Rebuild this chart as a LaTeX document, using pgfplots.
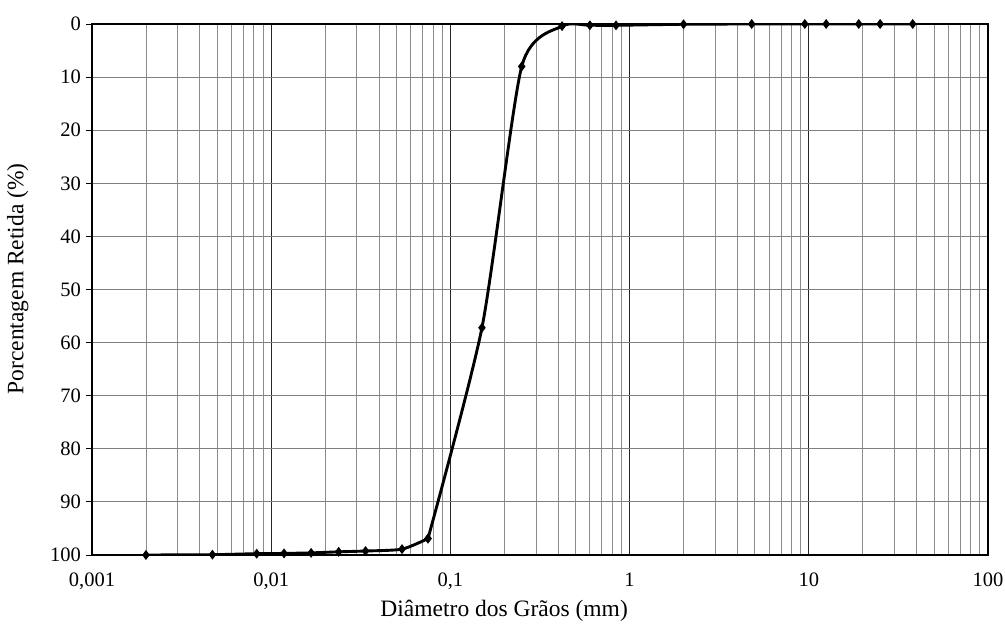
\documentclass[border=0pt]{standalone}
\usepackage{fontspec}
\setmainfont{Liberation Serif}
\usepackage{pgfplots}
\pgfplotsset{compat=1.18}
\pgfplotstableread{
x y
0.002 100
0.0047 99.94
0.0083 99.75
0.0118 99.7
0.0167 99.6
0.0238 99.4
0.0336 99.25
0.0537 98.9
0.075 96.9
}\finedata
\pgfplotstableread{
x y
0.075 96.9
0.15 57.2
0.25 8.0
0.42 0.4
0.6 0.25
0.84 0.25
2.0 0.05
4.8 0
9.5 0
12.5 0
19 0
25 0
38 0
}\sievedata
\begin{document}
\begin{tikzpicture}[x=1bp,y=1bp]
\useasboundingbox (0,0) rectangle (1005,630);
\begin{axis}[
  at={(92bp,75bp)}, anchor=south west,
  scale only axis, width=896bp, height=531bp,
  xmode=log, xmin=0.001, xmax=100,
  ymin=0, ymax=100, y dir=reverse,
  ytick={0,10,...,100},
  xtick={0.001,0.01,0.1,1,10,100},
  xticklabels={{0,001},{0,01},{0,1},{1},{10},{100}},
  /pgf/number format/assume math mode=true,
  ticklabel style={font=\fontsize{20.5bp}{24bp}\selectfont},
  xticklabel style={yshift=-14bp},
  ytick pos=left, xtick pos=bottom,
  ytick align=outside, major tick length=6bp,
  yticklabel style={xshift=-1.5bp},
  xtick style={draw=none}, minor x tick style={draw=none},
  xmajorgrids, xminorgrids, ymajorgrids,
  major x grid style={draw=black!85, line width=0.8bp},
  minor x grid style={draw=black!45, line width=0.8bp},
  major y grid style={draw=black!50, line width=0.8bp},
  axis line style={black, line width=1.2bp},
  ytick style={black, line width=0.8bp},
  xlabel={Diâmetro dos Grãos (mm)},
  ylabel={Porcentagem Retida (\%)},
  label style={font=\fontsize{23.5bp}{27bp}\selectfont},
  xlabel style={at={(axis description cs:0.46,0)}, anchor=north, yshift=-42bp},
  ylabel style={at={(axis description cs:0,0.52)}, anchor=south, yshift=60bp},
]
\addplot[black, line width=2.9bp, smooth, tension=0.4, mark=diamond*, mark size=2.6bp, mark options={solid}] table[x=x,y=y] {\finedata};
\addplot[black, line width=2.9bp, smooth, tension=0.4, mark=diamond*, mark size=2.6bp, mark options={solid}] table[x=x,y=y] {\sievedata};
\end{axis}
\end{tikzpicture}
\end{document}
